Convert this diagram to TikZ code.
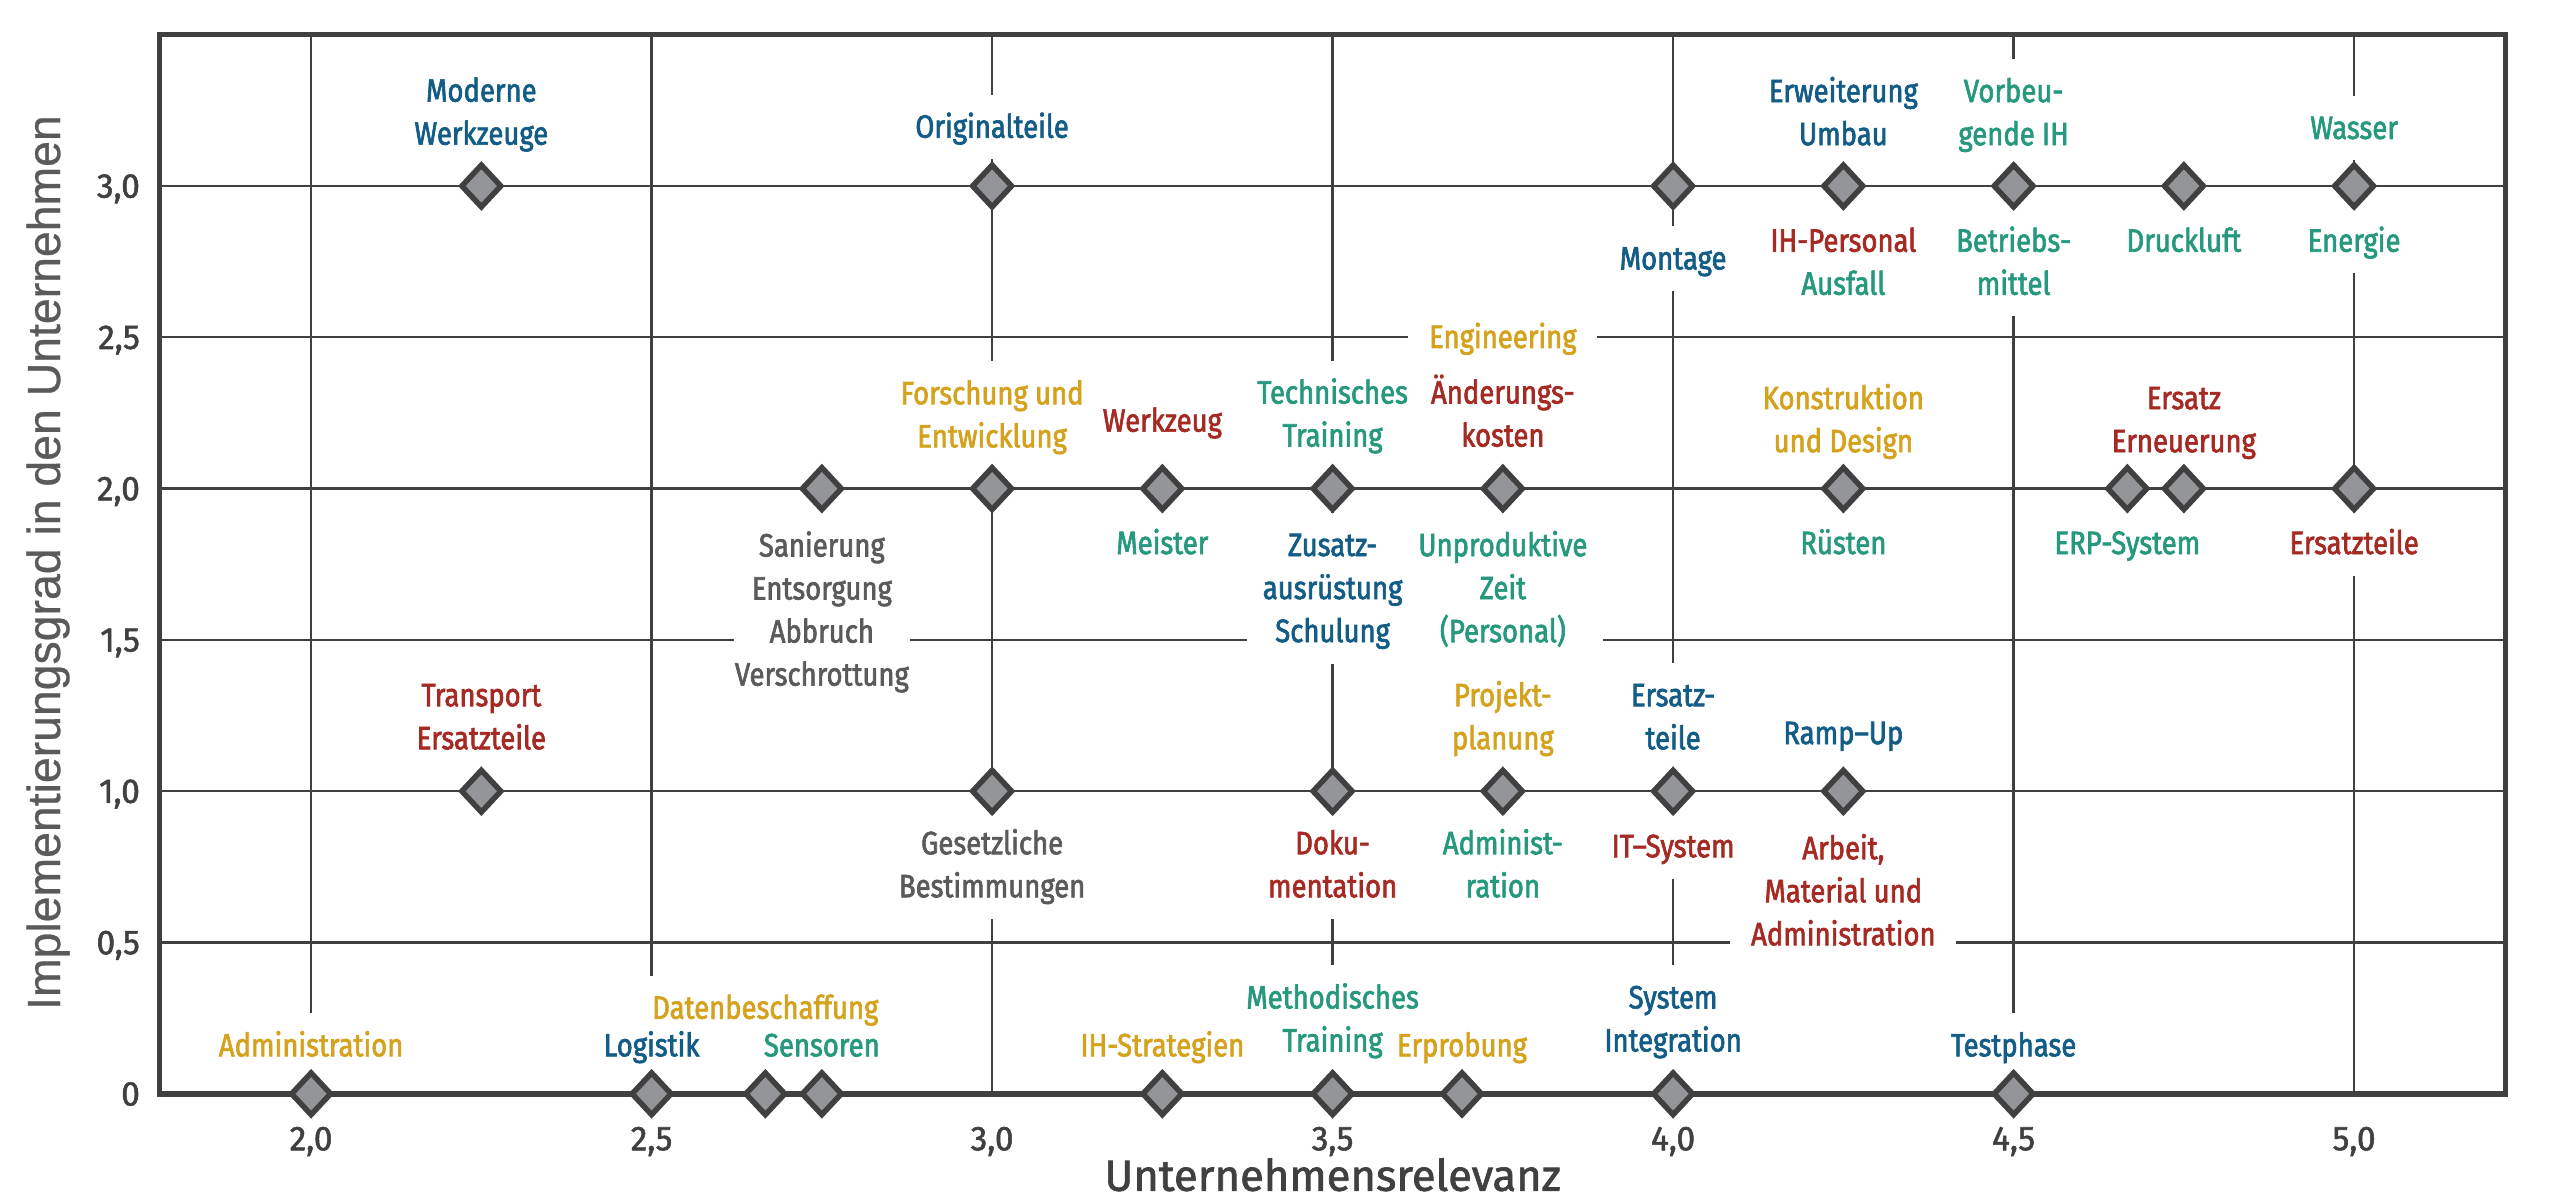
\documentclass[tikz,border=0pt]{standalone}
\usepackage{fontspec}
\usetikzlibrary{shapes.geometric}
\newfontfamily\labfont[FakeStretch=0.85,FakeBold=2]{Fira Sans}
\newfontfamily\tickfont[FakeStretch=0.97,FakeBold=1.6]{Fira Sans}
\newfontfamily\titfont[FakeBold=1.6]{Fira Sans}
\newfontfamily\yfont[FakeBold=0.6]{Liberation Sans}
\definecolor{cblue}{RGB}{18,92,134}
\definecolor{cgreen}{RGB}{38,152,126}
\definecolor{cgold}{RGB}{212,162,28}
\definecolor{cred}{RGB}{166,42,36}
\definecolor{cgray}{RGB}{90,90,90}
\definecolor{gridc}{RGB}{64,64,64}
\definecolor{dfill}{RGB}{148,149,152}
\newcommand\sr{\rule[-3.06pt]{0pt}{12.24pt}}
\pgfdeclarelayer{gridlayer}
\pgfdeclarelayer{boxlayer}
\pgfsetlayers{gridlayer,boxlayer,main}
\begin{document}
\begin{tikzpicture}[
  lab/.style={font=\labfont\fontsize{9.2pt}{12.24pt}\selectfont, align=center, inner xsep=0.15cm, inner ysep=0.1cm},
  dia/.style={diamond, draw=gridc, fill=dfill, line width=0.055cm, minimum width=0.412cm, minimum height=0.44cm, inner sep=0pt, line join=miter},
  tick/.style={font=\tickfont\fontsize{9.8pt}{11pt}\selectfont, text=gridc, inner sep=0pt},
  gridline/.style={draw=gridc, line width=0.023cm},
]
\useasboundingbox (0,0) rectangle (25.69,12.03);
\node[font=\yfont\fontsize{13.2pt}{15pt}\selectfont, text=cgray, rotate=90, anchor=base, inner sep=0pt] (yt) at (0.60,6.405) {Implementierungsgrad in den Unternehmen};
\begin{scope}[shift={(-10.509cm,1.092cm)}, x=6.81cm, y=3.026cm]
\begin{pgfonlayer}{gridlayer}
\foreach \x in {2,2.5,...,5} \draw[gridline] (\x,0) -- (\x,3.5);
\foreach \y in {0.5,1,...,3} \draw[gridline] (1.7775,\y) -- (5.2225,\y);
\draw[draw=gridc, line width=0.055cm] (1.7775,0) rectangle (5.2225,3.5);
\end{pgfonlayer}

% ticks
\node[tick, anchor=base] (tx1) at ([yshift=-0.565cm]2,0) {2,0};
\node[tick, anchor=base] (tx2) at ([yshift=-0.565cm]2.5,0) {2,5};
\node[tick, anchor=base] (tx3) at ([yshift=-0.565cm]3,0) {3,0};
\node[tick, anchor=base] (tx4) at ([yshift=-0.565cm]3.5,0) {3,5};
\node[tick, anchor=base] (tx5) at ([yshift=-0.565cm]4,0) {4,0};
\node[tick, anchor=base] (tx6) at ([yshift=-0.565cm]4.5,0) {4,5};
\node[tick, anchor=base] (tx7) at ([yshift=-0.565cm]5,0) {5,0};
\node[tick, anchor=base east] (ty0) at ([xshift=-0.19cm,yshift=-0.117cm]1.7775,0) {0};
\node[tick, anchor=base east] (ty1) at ([xshift=-0.19cm,yshift=-0.117cm]1.7775,0.5) {0,5};
\node[tick, anchor=base east] (ty2) at ([xshift=-0.19cm,yshift=-0.117cm]1.7775,1) {1,0};
\node[tick, anchor=base east] (ty3) at ([xshift=-0.19cm,yshift=-0.117cm]1.7775,1.5) {1,5};
\node[tick, anchor=base east] (ty4) at ([xshift=-0.19cm,yshift=-0.117cm]1.7775,2) {2,0};
\node[tick, anchor=base east] (ty5) at ([xshift=-0.19cm,yshift=-0.117cm]1.7775,2.5) {2,5};
\node[tick, anchor=base east] (ty6) at ([xshift=-0.19cm,yshift=-0.117cm]1.7775,3) {3,0};
\node[font=\titfont\fontsize{12.4pt}{14pt}\selectfont, text=gridc, anchor=base, inner sep=0pt] (xt) at ([yshift=-0.97cm]3.5,0) {Unternehmensrelevanz};

% data points
\node[dia] (d1) at (2.25,3) {};
\node[dia] (d2) at (3,3) {};
\node[dia] (d3) at (4,3) {};
\node[dia] (d4) at (4.25,3) {};
\node[dia] (d5) at (4.5,3) {};
\node[dia] (d6) at (4.75,3) {};
\node[dia] (d7) at (5,3) {};
\node[dia] (d8) at (2.75,2) {};
\node[dia] (d9) at (3,2) {};
\node[dia] (d10) at (3.25,2) {};
\node[dia] (d11) at (3.5,2) {};
\node[dia] (d12) at (3.75,2) {};
\node[dia] (d13) at (4.25,2) {};
\node[dia] (d14) at (4.667,2) {};
\node[dia] (d15) at (4.75,2) {};
\node[dia] (d16) at (5,2) {};
\node[dia] (d17) at (2.25,1) {};
\node[dia] (d18) at (3,1) {};
\node[dia] (d19) at (3.5,1) {};
\node[dia] (d20) at (3.75,1) {};
\node[dia] (d21) at (4,1) {};
\node[dia] (d22) at (4.25,1) {};
\node[dia] (d23) at (2,0) {};
\node[dia] (d24) at (2.5,0) {};
\node[dia] (d25) at (2.667,0) {};
\node[dia] (d26) at (2.75,0) {};
\node[dia] (d27) at (3.25,0) {};
\node[dia] (d28) at (3.5,0) {};
\node[dia] (d29) at (3.69,0) {};
\node[dia] (d30) at (4,0) {};
\node[dia] (d31) at (4.5,0) {};

% labels
\node[lab, text=cblue] (l1) at ([yshift=0.736cm]d1.center) {\sr Moderne\\\sr Werkzeuge};
\node[lab, text=cblue] (l2) at ([yshift=0.59cm]d2.center) {\sr Originalteile};
\node[lab, text=cblue] (l3) at ([yshift=-0.727cm]d3.center) {\sr Montage};
\node[lab, text=cblue] (l4) at ([yshift=0.731cm]d4.center) {\sr Erweiterung\\\sr Umbau};
\node[lab] (l5) at ([yshift=-0.765cm]d4.center) {\sr\textcolor{cred}{IH-Personal}\\\sr\textcolor{cgreen}{Ausfall}};
\node[lab, text=cgreen] (l6) at ([yshift=0.731cm]d5.center) {\sr Vorbeu-\\\sr gende IH};
\node[lab, text=cgreen] (l7) at ([yshift=-0.765cm]d5.center) {\sr Betriebs-\\\sr mittel};
\node[lab, text=cgreen] (l8) at ([yshift=-0.55cm]d6.center) {\sr Druckluft};
\node[lab, text=cgreen] (l9) at ([yshift=0.578cm]d7.center) {\sr Wasser};
\node[lab, text=cgreen] (l10) at ([yshift=-0.55cm]d7.center) {\sr Energie};
\node[lab, text=cgray, inner xsep=0pt] (l11) at ([yshift=-1.217cm]d8.center) {\sr Sanierung\\\sr Entsorgung\\\sr Abbruch\\\sr Verschrottung};
\node[lab, text=cgold] (l12) at ([yshift=0.735cm]d9.center) {\sr Forschung und\\\sr Entwicklung};
\node[lab, text=cred] (l13) at ([yshift=0.677cm]d10.center) {\sr Werkzeug};
\node[lab, text=cgreen] (l14) at ([yshift=-0.547cm]d10.center) {\sr Meister};
\node[lab, text=cgreen] (l15) at ([yshift=0.743cm]d11.center) {\sr Technisches\\\sr Training};
\node[lab, text=cblue] (l16) at ([yshift=-0.997cm]d11.center) {\sr Zusatz-\\\sr ausrüstung\\\sr Schulung};
\node[lab, text=cred] (l17) at ([yshift=0.743cm]d12.center) {\sr Änderungs-\\\sr kosten};
\node[lab, text=cgold, inner xsep=0.2cm] (l18) at ([yshift=1.514cm]d12.center) {\sr Engineering};
\node[lab, text=cgreen] (l19) at ([yshift=-0.998cm]d12.center) {\sr Unproduktive\\\sr Zeit\\\sr (Personal)};
\node[lab, text=cgold] (l20) at ([yshift=0.687cm]d13.center) {\sr Konstruktion\\\sr und Design};
\node[lab, text=cgreen] (l21) at ([yshift=-0.547cm]d13.center) {\sr Rüsten};
\node[lab, text=cgreen] (l22) at ([yshift=-0.547cm]d14.center) {\sr ERP-System};
\node[lab, text=cred] (l23) at ([yshift=0.687cm]d15.center) {\sr Ersatz\\\sr Erneuerung};
\node[lab, text=cred] (l24) at ([yshift=-0.547cm]d16.center) {\sr Ersatzteile};
\node[lab, text=cred] (l25) at ([yshift=0.742cm]d17.center) {\sr Transport\\\sr Ersatzteile};
\node[lab, text=cgray] (l26) at ([yshift=-0.738cm]d18.center) {\sr Gesetzliche\\\sr Bestimmungen};
\node[lab, text=cred] (l27) at ([yshift=-0.738cm]d19.center) {\sr Doku-\\\sr mentation};
\node[lab, text=cgold] (l28) at ([yshift=0.742cm]d20.center) {\sr Projekt-\\\sr planung};
\node[lab, text=cgreen] (l29) at ([yshift=-0.738cm]d20.center) {\sr Administ-\\\sr ration};
\node[lab, text=cblue] (l30) at ([yshift=0.742cm]d21.center) {\sr Ersatz-\\\sr teile};
\node[lab, text=cred] (l31) at ([yshift=-0.553cm]d21.center) {\sr IT–System};
\node[lab, text=cblue] (l32) at ([yshift=0.579cm]d22.center) {\sr Ramp–Up};
\node[lab, text=cred, inner xsep=0.2cm] (l33) at ([yshift=-1.003cm]d22.center) {\sr Arbeit,\\\sr Material und\\\sr Administration};
\node[lab, text=cgold] (l34) at ([yshift=0.482cm]d23.center) {\sr Administration};
\node[lab, text=cblue] (l35) at ([yshift=0.482cm]d24.center) {\sr Logistik};
\node[lab, text=cgold] (l36) at ([yshift=0.858cm]d25.center) {\sr Datenbeschaffung};
\node[lab, text=cgreen] (l37) at ([yshift=0.482cm]d26.center) {\sr Sensoren};
\node[lab, text=cgold] (l38) at ([yshift=0.482cm]d27.center) {\sr IH-Strategien};
\node[lab, text=cgreen] (l39) at ([yshift=0.746cm]d28.center) {\sr Methodisches\\\sr Training};
\node[lab, text=cgold] (l40) at ([yshift=0.482cm]d29.center) {\sr Erprobung};
\node[lab, text=cblue] (l41) at ([yshift=0.746cm]d30.center) {\sr System\\\sr Integration};
\node[lab, text=cblue] (l42) at ([yshift=0.482cm]d31.center) {\sr Testphase};

\begin{pgfonlayer}{boxlayer}
\foreach \n in {l1,l2,l3,l4,l5,l6,l7,l8,l9,l10,l11,l12,l13,l14,l15,l16,l17,l18,l19,l20,l21,l22,l23,l24,l25,l26,l27,l28,l29,l30,l31,l32,l33,l34,l35,l36,l37,l38,l39,l40,l41,l42}
  \fill[white] (\n.south west) rectangle (\n.north east);
\end{pgfonlayer}
\end{scope}
\end{tikzpicture}
\end{document}
